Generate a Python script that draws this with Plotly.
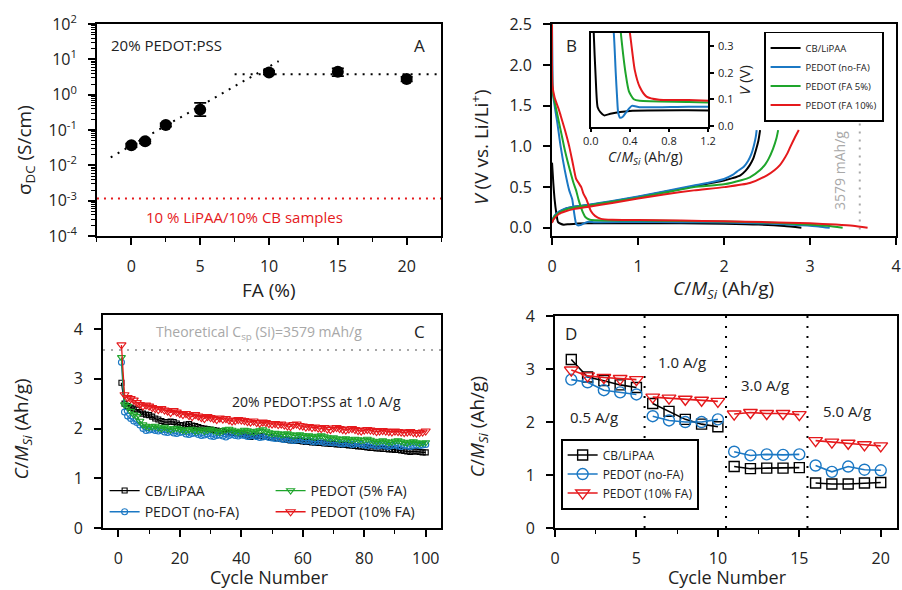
import plotly.graph_objects as go

# ---------------- Panel A: conductivity vs FA ----------------
fa_pct = [0, 1, 2.5, 5, 10, 15, 20]
sigma_dc = [0.037, 0.048, 0.14, 0.38, 4.3, 4.5, 2.8]
sigma_err_plus = [0.004, 0.006, 0.015, 0.21, 0.5, 1.1, 0.4]
sigma_err_minus = [0.004, 0.006, 0.015, 0.13, 0.5, 1.1, 0.4]
fit_fa = [-1.5, 10.7]
fit_sigma = [0.017, 9.0]
plateau_fa = [7.5, 22.5]
plateau_sigma = [3.8, 3.8]
cb_ref_fa = [-2.5, 22.5]
cb_ref_sigma = [0.00115, 0.00115]
a_yticks = [1e-4, 1e-3, 1e-2, 1e-1, 1e0, 1e1, 1e2]
a_yticktext = ["10<sup>-4</sup>", "10<sup>-3</sup>", "10<sup>-2</sup>", "10<sup>-1</sup>",
               "10<sup>0</sup>", "10<sup>1</sup>", "10<sup>2</sup>"]

# ---------------- Panel B: voltage profiles ----------------
names_b = ["CB/LiPAA", "PEDOT (no-FA)", "PEDOT (FA 5%)", "PEDOT (FA 10%)"]
# discharge (lithiation)
cb_dis_x = [0, 0.015, 0.03, 0.05, 0.07, 0.1, 0.136, 0.2, 0.3, 0.4, 1.0, 1.5, 2.0, 2.4, 2.7, 2.9]
cb_dis_v = [0.8, 0.55, 0.35, 0.18, 0.07, 0.05, 0.039, 0.045, 0.052, 0.056, 0.058, 0.056, 0.05, 0.04, 0.022, 0.0]
nofa_dis_x = [0, 0.005, 0.01, 0.03, 0.06, 0.1, 0.15, 0.2, 0.235, 0.255, 0.27, 0.28, 0.3, 0.33, 0.37, 0.42, 0.5, 1.0, 1.5, 2.0, 2.5, 2.9, 3.1, 3.23]
nofa_dis_v = [2.5, 2.0, 1.65, 1.5, 1.3, 1.0, 0.7, 0.46, 0.35, 0.2, 0.1, 0.05, 0.03, 0.035, 0.055, 0.075, 0.07, 0.072, 0.07, 0.065, 0.052, 0.032, 0.018, 0.0]
fa5_dis_x = [0, 0.005, 0.02, 0.05, 0.08, 0.12, 0.15, 0.21, 0.25, 0.28, 0.31, 0.355, 0.39, 0.44, 0.5, 1.0, 1.5, 2.0, 2.5, 2.9, 3.2, 3.38]
fa5_dis_v = [2.5, 1.7, 1.6, 1.45, 1.3, 1.1, 0.95, 0.7, 0.55, 0.46, 0.34, 0.2, 0.13, 0.1, 0.094, 0.09, 0.085, 0.078, 0.065, 0.045, 0.025, 0.0]
fa10_dis_x = [0, 0.005, 0.03, 0.08, 0.1, 0.15, 0.2, 0.24, 0.28, 0.31, 0.34, 0.365, 0.4, 0.45, 0.5, 0.57, 0.7, 1.0, 1.5, 2.0, 2.5, 3.0, 3.3, 3.5, 3.67]
fa10_dis_v = [2.5, 1.75, 1.6, 1.45, 1.38, 1.2, 1.0, 0.8, 0.6, 0.55, 0.5, 0.42, 0.35, 0.21, 0.147, 0.11, 0.098, 0.097, 0.09, 0.08, 0.07, 0.055, 0.04, 0.025, 0.0]
# charge (delithiation)
cb_chg_x = [0, 0.01, 0.03, 0.08, 0.15, 0.25, 0.43, 0.7, 1.0, 1.3, 1.65, 1.85, 2.0, 2.1, 2.19, 2.25, 2.3, 2.34, 2.37, 2.4, 2.42]
cb_chg_v = [0.07, 0.1, 0.14, 0.19, 0.23, 0.255, 0.28, 0.325, 0.38, 0.44, 0.51, 0.55, 0.58, 0.61, 0.645, 0.7, 0.77, 0.85, 0.95, 1.07, 1.2]
nofa_chg_x = [0, 0.01, 0.03, 0.08, 0.15, 0.25, 0.43, 0.7, 1.0, 1.3, 1.65, 1.85, 2.0, 2.1, 2.15, 2.23, 2.28, 2.32, 2.35, 2.37, 2.38]
nofa_chg_v = [0.08, 0.11, 0.15, 0.2, 0.235, 0.26, 0.285, 0.33, 0.385, 0.445, 0.52, 0.56, 0.6, 0.65, 0.69, 0.75, 0.82, 0.91, 1.02, 1.12, 1.2]
fa5_chg_x = [0, 0.01, 0.03, 0.08, 0.15, 0.25, 0.43, 0.7, 1.0, 1.3, 1.65, 2.0, 2.2, 2.3, 2.42, 2.48, 2.52, 2.57, 2.61, 2.63]
fa5_chg_v = [0.07, 0.1, 0.14, 0.185, 0.22, 0.25, 0.275, 0.32, 0.37, 0.43, 0.5, 0.535, 0.585, 0.62, 0.71, 0.78, 0.85, 0.97, 1.1, 1.2]
fa10_chg_x = [0, 0.01, 0.03, 0.08, 0.15, 0.25, 0.43, 0.7, 1.0, 1.3, 1.65, 2.0, 2.3, 2.5, 2.59, 2.65, 2.69, 2.74, 2.77, 2.82, 2.87]
fa10_chg_v = [0.06, 0.09, 0.12, 0.17, 0.2, 0.23, 0.26, 0.305, 0.36, 0.41, 0.46, 0.5, 0.55, 0.645, 0.71, 0.77, 0.83, 0.92, 0.99, 1.1, 1.2]
theo_b_x = [3.579, 3.579]
theo_b_v = [-0.02, 1.5]

# ---------------- Panel C: cycling at 1.0 A/g ----------------
cycles_c = list(range(1, 101))
cap_cb = [2.92, 2.50, 2.45, 2.42, 2.40, 2.38, 2.33, 2.30, 2.28, 2.27,
          2.24, 2.20, 2.18, 2.15, 2.13, 2.13, 2.14, 2.13, 2.10, 2.07,
          2.06, 2.08, 2.09, 2.06, 2.05, 2.03, 2.01, 2.00, 1.99, 1.98,
          1.97, 1.96, 1.95, 1.95, 1.93, 1.92, 1.92, 1.91, 1.90, 1.90,
          1.88, 1.86, 1.83, 1.85, 1.86, 1.85, 1.84, 1.83, 1.83, 1.82,
          1.81, 1.80, 1.79, 1.78, 1.77, 1.76, 1.76, 1.75, 1.75, 1.74,
          1.73, 1.73, 1.72, 1.72, 1.71, 1.71, 1.70, 1.70, 1.69, 1.69,
          1.68, 1.68, 1.67, 1.67, 1.66, 1.66, 1.65, 1.64, 1.64, 1.63,
          1.62, 1.61, 1.61, 1.60, 1.60, 1.59, 1.59, 1.58, 1.58, 1.57,
          1.57, 1.56, 1.55, 1.54, 1.53, 1.54, 1.54, 1.53, 1.52, 1.52]
cap_nofa = [3.33, 2.33, 2.25, 2.20, 2.15, 2.12, 2.07, 2.00, 1.96, 1.97,
            1.98, 1.96, 1.95, 1.97, 1.93, 1.92, 1.94, 1.91, 1.90, 1.92,
            1.93, 1.89, 1.88, 1.90, 1.91, 1.88, 1.86, 1.87, 1.89, 1.85,
            1.84, 1.86, 1.87, 1.85, 1.83, 1.86, 1.88, 1.86, 1.85, 1.87,
            1.86, 1.84, 1.85, 1.86, 1.84, 1.82, 1.83, 1.84, 1.82, 1.81,
            1.80, 1.81, 1.79, 1.78, 1.79, 1.77, 1.76, 1.77, 1.78, 1.76,
            1.75, 1.76, 1.74, 1.73, 1.75, 1.74, 1.72, 1.73, 1.72, 1.71,
            1.72, 1.70, 1.69, 1.71, 1.70, 1.68, 1.69, 1.70, 1.68, 1.67,
            1.66, 1.68, 1.67, 1.65, 1.66, 1.67, 1.65, 1.64, 1.66, 1.67,
            1.65, 1.64, 1.66, 1.65, 1.64, 1.66, 1.67, 1.66, 1.67, 1.68]
cap_fa5 = [3.43, 2.48, 2.45, 2.35, 2.28, 2.25, 2.15, 2.08, 2.05, 2.03,
           2.04, 2.05, 2.02, 2.00, 2.03, 2.00, 1.98, 2.00, 2.01, 1.99,
           1.97, 1.96, 1.98, 1.99, 1.95, 1.96, 1.98, 1.95, 1.97, 1.99,
           1.96, 1.94, 1.93, 1.96, 1.98, 1.99, 1.97, 1.95, 1.93, 1.95,
           1.97, 1.96, 1.94, 1.93, 1.95, 1.96, 1.98, 1.95, 1.92, 1.90,
           1.91, 1.90, 1.88, 1.89, 1.90, 1.88, 1.86, 1.87, 1.88, 1.86,
           1.85, 1.86, 1.84, 1.83, 1.85, 1.86, 1.84, 1.82, 1.80, 1.82,
           1.80, 1.78, 1.79, 1.80, 1.78, 1.77, 1.79, 1.78, 1.76, 1.77,
           1.79, 1.77, 1.75, 1.73, 1.74, 1.76, 1.74, 1.72, 1.73, 1.75,
           1.76, 1.74, 1.72, 1.71, 1.73, 1.74, 1.72, 1.70, 1.71, 1.72]
cap_fa10 = [3.68, 2.68, 2.62, 2.60, 2.57, 2.52, 2.48, 2.45, 2.47, 2.45,
            2.42, 2.40, 2.38, 2.40, 2.37, 2.35, 2.32, 2.36, 2.33, 2.30,
            2.28, 2.30, 2.26, 2.24, 2.28, 2.25, 2.22, 2.20, 2.24, 2.22,
            2.20, 2.18, 2.21, 2.19, 2.20, 2.17, 2.15, 2.16, 2.18, 2.17,
            2.16, 2.14, 2.13, 2.15, 2.12, 2.11, 2.13, 2.12, 2.10, 2.09,
            2.10, 2.08, 2.09, 2.07, 2.05, 2.04, 2.08, 2.09, 2.06, 2.05,
            2.03, 2.04, 2.02, 2.03, 2.01, 2.00, 2.02, 1.99, 1.98, 2.01,
            2.02, 2.00, 1.98, 1.97, 1.99, 2.00, 1.98, 1.96, 1.95, 1.97,
            1.98, 1.97, 1.96, 1.94, 1.95, 1.96, 1.95, 1.94, 1.93, 1.95,
            1.94, 1.93, 1.92, 1.93, 1.94, 1.92, 1.91, 1.92, 1.93, 1.95]
theo_c_x = [-5, 105]
theo_c_cap = [3.579, 3.579]

# ---------------- Panel D: rate capability ----------------
cycles_d = list(range(1, 21))
rate_cb = [3.18, 2.85, 2.78, 2.70, 2.65, 2.35, 2.20, 2.05, 1.96, 1.91,
           1.16, 1.12, 1.13, 1.13, 1.14, 0.85, 0.83, 0.83, 0.85, 0.86]
rate_nofa = [2.80, 2.75, 2.60, 2.56, 2.52, 2.11, 2.03, 2.00, 2.00, 2.05,
             1.44, 1.37, 1.39, 1.38, 1.39, 1.18, 1.06, 1.16, 1.10, 1.09]
rate_fa10 = [2.98, 2.87, 2.84, 2.82, 2.80, 2.47, 2.45, 2.43, 2.41, 2.39,
             2.15, 2.18, 2.16, 2.16, 2.14, 1.65, 1.62, 1.60, 1.57, 1.55]
rate_boundaries = [5.5, 10.5, 15.5]
rate_labels = ["0.5 A/g", "1.0 A/g", "3.0 A/g", "5.0 A/g"]
rate_label_x = [2.4, 7.8, 12.9, 17.9]
rate_label_y = [2.09, 3.13, 2.70, 2.20]

# ---------------- styling ----------------
BLACK = "#000000"
BLUE = "#1b78c4"
GREEN = "#1ea52b"
RED = "#e5191c"
GRAY = "#a8a8a8"
TXT = "#222222"
FONT = "Open Sans"

fig = go.Figure()

# Panel A
fig.add_trace(go.Scatter(x=fit_fa, y=fit_sigma, mode="lines", xaxis="x", yaxis="y",
                         line=dict(color=BLACK, width=2, dash="2px,6px"), showlegend=False))
fig.add_trace(go.Scatter(x=plateau_fa, y=plateau_sigma, mode="lines", xaxis="x", yaxis="y",
                         line=dict(color=BLACK, width=2, dash="2px,6px"), showlegend=False))
fig.add_trace(go.Scatter(x=cb_ref_fa, y=cb_ref_sigma, mode="lines", xaxis="x", yaxis="y",
                         line=dict(color=RED, width=2, dash="2px,5px"), showlegend=False))
fig.add_trace(go.Scatter(x=fa_pct, y=sigma_dc, mode="markers", xaxis="x", yaxis="y",
                         marker=dict(color=BLACK, size=12),
                         error_y=dict(type="data", array=sigma_err_plus, arrayminus=sigma_err_minus,
                                      color=BLACK, thickness=1.8, width=6),
                         showlegend=False))

# Panel B
series_b = [
    (names_b[0], BLACK, cb_dis_x, cb_dis_v, cb_chg_x, cb_chg_v),
    (names_b[1], BLUE, nofa_dis_x, nofa_dis_v, nofa_chg_x, nofa_chg_v),
    (names_b[2], GREEN, fa5_dis_x, fa5_dis_v, fa5_chg_x, fa5_chg_v),
    (names_b[3], RED, fa10_dis_x, fa10_dis_v, fa10_chg_x, fa10_chg_v),
]
fig.add_trace(go.Scatter(x=theo_b_x, y=theo_b_v, mode="lines", xaxis="x2", yaxis="y2",
                         line=dict(color=GRAY, width=2, dash="2px,6px"), showlegend=False))
for name, col, dx, dv, cx, cv in series_b:
    fig.add_trace(go.Scatter(x=dx + [None] + cx, y=dv + [None] + cv, mode="lines",
                             xaxis="x2", yaxis="y2", name=name, legend="legend",
                             line=dict(color=col, width=2, shape="spline", smoothing=0.6)))
for name, col, dx, dv, cx, cv in series_b:
    fig.add_trace(go.Scatter(x=dx, y=dv, mode="lines", xaxis="x5", yaxis="y5",
                             showlegend=False,
                             line=dict(color=col, width=2, shape="spline", smoothing=0.6)))

# Panel C
fig.add_trace(go.Scatter(x=theo_c_x, y=theo_c_cap, mode="lines", xaxis="x3", yaxis="y3",
                         line=dict(color=GRAY, width=2, dash="2px,6px"), showlegend=False))
series_c = [
    ("CB/LiPAA", BLACK, cap_cb, "square-open", 5, "legend2"),
    ("PEDOT (no-FA)", BLUE, cap_nofa, "circle-open", 6, "legend2"),
    ("PEDOT (5% FA)", GREEN, cap_fa5, "triangle-down-open", 7, "legend3"),
    ("PEDOT (10% FA)", RED, cap_fa10, "triangle-down-open", 8, "legend3"),
]
for name, col, vals, sym, sz, lg in series_c:
    fig.add_trace(go.Scatter(x=cycles_c, y=vals, mode="lines+markers", xaxis="x3", yaxis="y3",
                             name=name, legend=lg,
                             line=dict(color=col, width=1.3),
                             marker=dict(symbol=sym, size=sz, color=col, line=dict(width=1.1, color=col))))

# Panel D
for xb in rate_boundaries:
    fig.add_trace(go.Scatter(x=[xb, xb], y=[0, 4], mode="lines", xaxis="x4", yaxis="y4",
                             line=dict(color=BLACK, width=2, dash="2px,8px"), showlegend=False))


def with_gaps(xs, ys, n=5):
    gx, gy = [], []
    for i, (xv, yv) in enumerate(zip(xs, ys)):
        if i and i % n == 0:
            gx.append(None)
            gy.append(None)
        gx.append(xv)
        gy.append(yv)
    return gx, gy


series_d = [
    ("CB/LiPAA", BLACK, rate_cb, "square-open", 10),
    ("PEDOT (no-FA)", BLUE, rate_nofa, "circle-open", 11),
    ("PEDOT (10% FA)", RED, rate_fa10, "triangle-down-open", 12),
]
for name, col, vals, sym, sz in series_d:
    gx, gy = with_gaps(cycles_d, vals)
    fig.add_trace(go.Scatter(x=gx, y=gy, mode="lines+markers", xaxis="x4", yaxis="y4",
                             name=name, legend="legend4", connectgaps=False,
                             line=dict(color=col, width=1.6),
                             marker=dict(symbol=sym, size=sz, color=col, line=dict(width=1.4, color=col))))


def ax(**kw):
    base = dict(showline=True, linecolor=BLACK, linewidth=1.8, mirror=True,
                ticks="outside", ticklen=7, tickwidth=1.6, tickcolor=BLACK,
                showgrid=False, zeroline=False, automargin=False, ticklabelstandoff=8,
                tickfont=dict(family=FONT, size=16, color=TXT))
    base.update(kw)
    return base


minor_small = dict(ticks="outside", ticklen=4, tickwidth=1.2, tickcolor=BLACK, showgrid=False)

layout = dict(
    template="none",
    width=902, height=590,
    margin=dict(l=0, r=0, t=0, b=0, autoexpand=False),
    paper_bgcolor="white", plot_bgcolor="white",
    font=dict(family=FONT, size=16, color=TXT),
    # Panel A
    xaxis=ax(domain=[0.1075, 0.489], anchor="y", range=[-2.5, 22.5], dtick=5, tick0=0,
             minor=dict(dtick=2.5, **minor_small)),
    yaxis=ax(domain=[0.6, 0.959], anchor="x", type="log", range=[-4, 2],
             tickvals=a_yticks, ticktext=a_yticktext,
             minor=dict(dtick="D1", **minor_small)),
    # Panel B
    xaxis2=ax(domain=[0.612, 0.9933], anchor="y2", range=[0, 4], dtick=1),
    yaxis2=ax(domain=[0.6, 0.959], anchor="x2", range=[-0.1, 2.5], dtick=0.5, tickformat=".1f"),
    # Panel C
    xaxis3=ax(domain=[0.1142, 0.489], anchor="y3", range=[-5, 105], dtick=20, tick0=0,
              minor=dict(dtick=10, **minor_small)),
    yaxis3=ax(domain=[0.105, 0.466], anchor="x3", range=[0, 4.28], dtick=1),
    # Panel D
    xaxis4=ax(domain=[0.6153, 0.9945], anchor="y4", range=[0, 21], dtick=5, tick0=0,
              minor=dict(dtick=2.5, **minor_small)),
    yaxis4=ax(domain=[0.105, 0.4644], anchor="x4", range=[0, 4], dtick=1),
    # Inset of B
    xaxis5=ax(domain=[0.655, 0.785], anchor="y5", range=[0, 1.2], dtick=0.4, tickformat=".1f",
              ticklen=3, linewidth=1.6, ticklabelstandoff=0,
              tickfont=dict(family=FONT, size=11, color=TXT)),
    yaxis5=ax(domain=[0.7847, 0.944], anchor="x5", side="right", range=[-0.005, 0.35], dtick=0.1,
              tickformat=".1f", ticklen=4, linewidth=1.6, ticklabelstandoff=2,
              tickfont=dict(family=FONT, size=11, color=TXT),
              title=dict(text="<i>V</i> (V)", font=dict(family=FONT, size=15, color=TXT), standoff=4)),
    legend=dict(x=0.847, y=0.946, xanchor="left", yanchor="top", bgcolor="white",
                bordercolor=BLACK, borderwidth=1.6, font=dict(family=FONT, size=9.5, color=TXT),
                itemwidth=30, tracegroupgap=0),
    legend2=dict(x=0.116, y=0.195, xanchor="left", yanchor="top", bgcolor="rgba(0,0,0,0)",
                 borderwidth=0, font=dict(family=FONT, size=14, color=TXT), itemwidth=30),
    legend3=dict(x=0.30, y=0.195, xanchor="left", yanchor="top", bgcolor="rgba(0,0,0,0)",
                 borderwidth=0, font=dict(family=FONT, size=14, color=TXT), itemwidth=30),
    legend4=dict(x=0.622, y=0.256, xanchor="left", yanchor="top", bgcolor="white",
                 bordercolor=BLACK, borderwidth=1.6, font=dict(family=FONT, size=12, color=TXT),
                 itemwidth=30),
)

ann = []
TF = dict(family=FONT, size=19, color=TXT)
TF_CN = dict(family=FONT, size=18, color=TXT)


def paper_text(text, x, y, angle=0, font=TF):
    return dict(text=text, x=x, y=y, xref="paper", yref="paper", xanchor="center",
                yanchor="middle", textangle=angle, showarrow=False, font=font)


# axis titles
ann.append(paper_text("σ<sub>DC</sub> (S/cm)", 0.028, 0.746, -90))
ann.append(paper_text("FA (%)", 0.298, 0.508))
ann.append(paper_text("<i>V</i> (V vs. Li/Li<sup>+</sup>)", 0.532, 0.751, -90))
ann.append(paper_text("<i>C</i>/<i>M</i><sub><i>Si</i></sub> (Ah/g)", 0.8016, 0.511))
ann.append(paper_text("<i>C</i>/<i>M</i><sub><i>Si</i></sub> (Ah/g)", 0.024, 0.273, -90))
ann.append(paper_text("Cycle Number", 0.299, 0.022, 0, TF_CN))
ann.append(paper_text("<i>C</i>/<i>M</i><sub><i>Si</i></sub> (Ah/g)", 0.530, 0.276, -90))
ann.append(paper_text("Cycle Number", 0.806, 0.022, 0, TF_CN))
ann.append(paper_text("<i>C</i>/<i>M</i><sub><i>Si</i></sub> (Ah/g)", 0.716, 0.733, 0,
                      dict(family=FONT, size=14, color=TXT)))
# panel texts
ann.append(dict(text="20% PEDOT:PSS", x=-1.6, y=1.4, xref="x", yref="y", xanchor="left",
                showarrow=False, font=dict(family=FONT, size=15, color=TXT)))
ann.append(dict(text="A", x=20.95, y=1.4, xref="x", yref="y", showarrow=False,
                font=dict(family=FONT, size=17, color=TXT)))
ann.append(dict(text="10 % LiPAA/10% CB samples", x=8.2, y=-3.47, xref="x", yref="y",
                showarrow=False, font=dict(family=FONT, size=15, color=RED)))
ann.append(dict(text="B", x=0.23, y=2.24, xref="x2", yref="y2", showarrow=False,
                font=dict(family=FONT, size=17, color=TXT)))
ann.append(dict(text="3579 mAh/g", x=3.35, y=0.7, xref="x2", yref="y2", textangle=-90,
                showarrow=False, font=dict(family=FONT, size=14, color=GRAY)))
ann.append(dict(text="Theoretical C<sub>sp</sub> (Si)=3579 mAh/g", x=45.9, y=3.92, xref="x3", yref="y3",
                showarrow=False, font=dict(family=FONT, size=14, color=GRAY)))
ann.append(dict(text="C", x=98, y=3.94, xref="x3", yref="y3", showarrow=False,
                font=dict(family=FONT, size=17, color=TXT)))
ann.append(dict(text="20% PEDOT:PSS at 1.0 A/g", x=64.5, y=2.54, xref="x3", yref="y3",
                showarrow=False, font=dict(family=FONT, size=14, color=TXT)))
ann.append(dict(text="D", x=1.0, y=3.67, xref="x4", yref="y4", showarrow=False,
                font=dict(family=FONT, size=17, color=TXT)))
for t, xv, yv in zip(rate_labels, rate_label_x, rate_label_y):
    ann.append(dict(text=t, x=xv, y=yv, xref="x4", yref="y4", showarrow=False,
                    font=dict(family=FONT, size=15, color=TXT)))

layout["annotations"] = ann
fig.update_layout(**layout)
fig.write_html("out.html", config={"displayModeBar": False},
               post_script="document.body.style.margin='0px';document.body.style.padding='0px';")
